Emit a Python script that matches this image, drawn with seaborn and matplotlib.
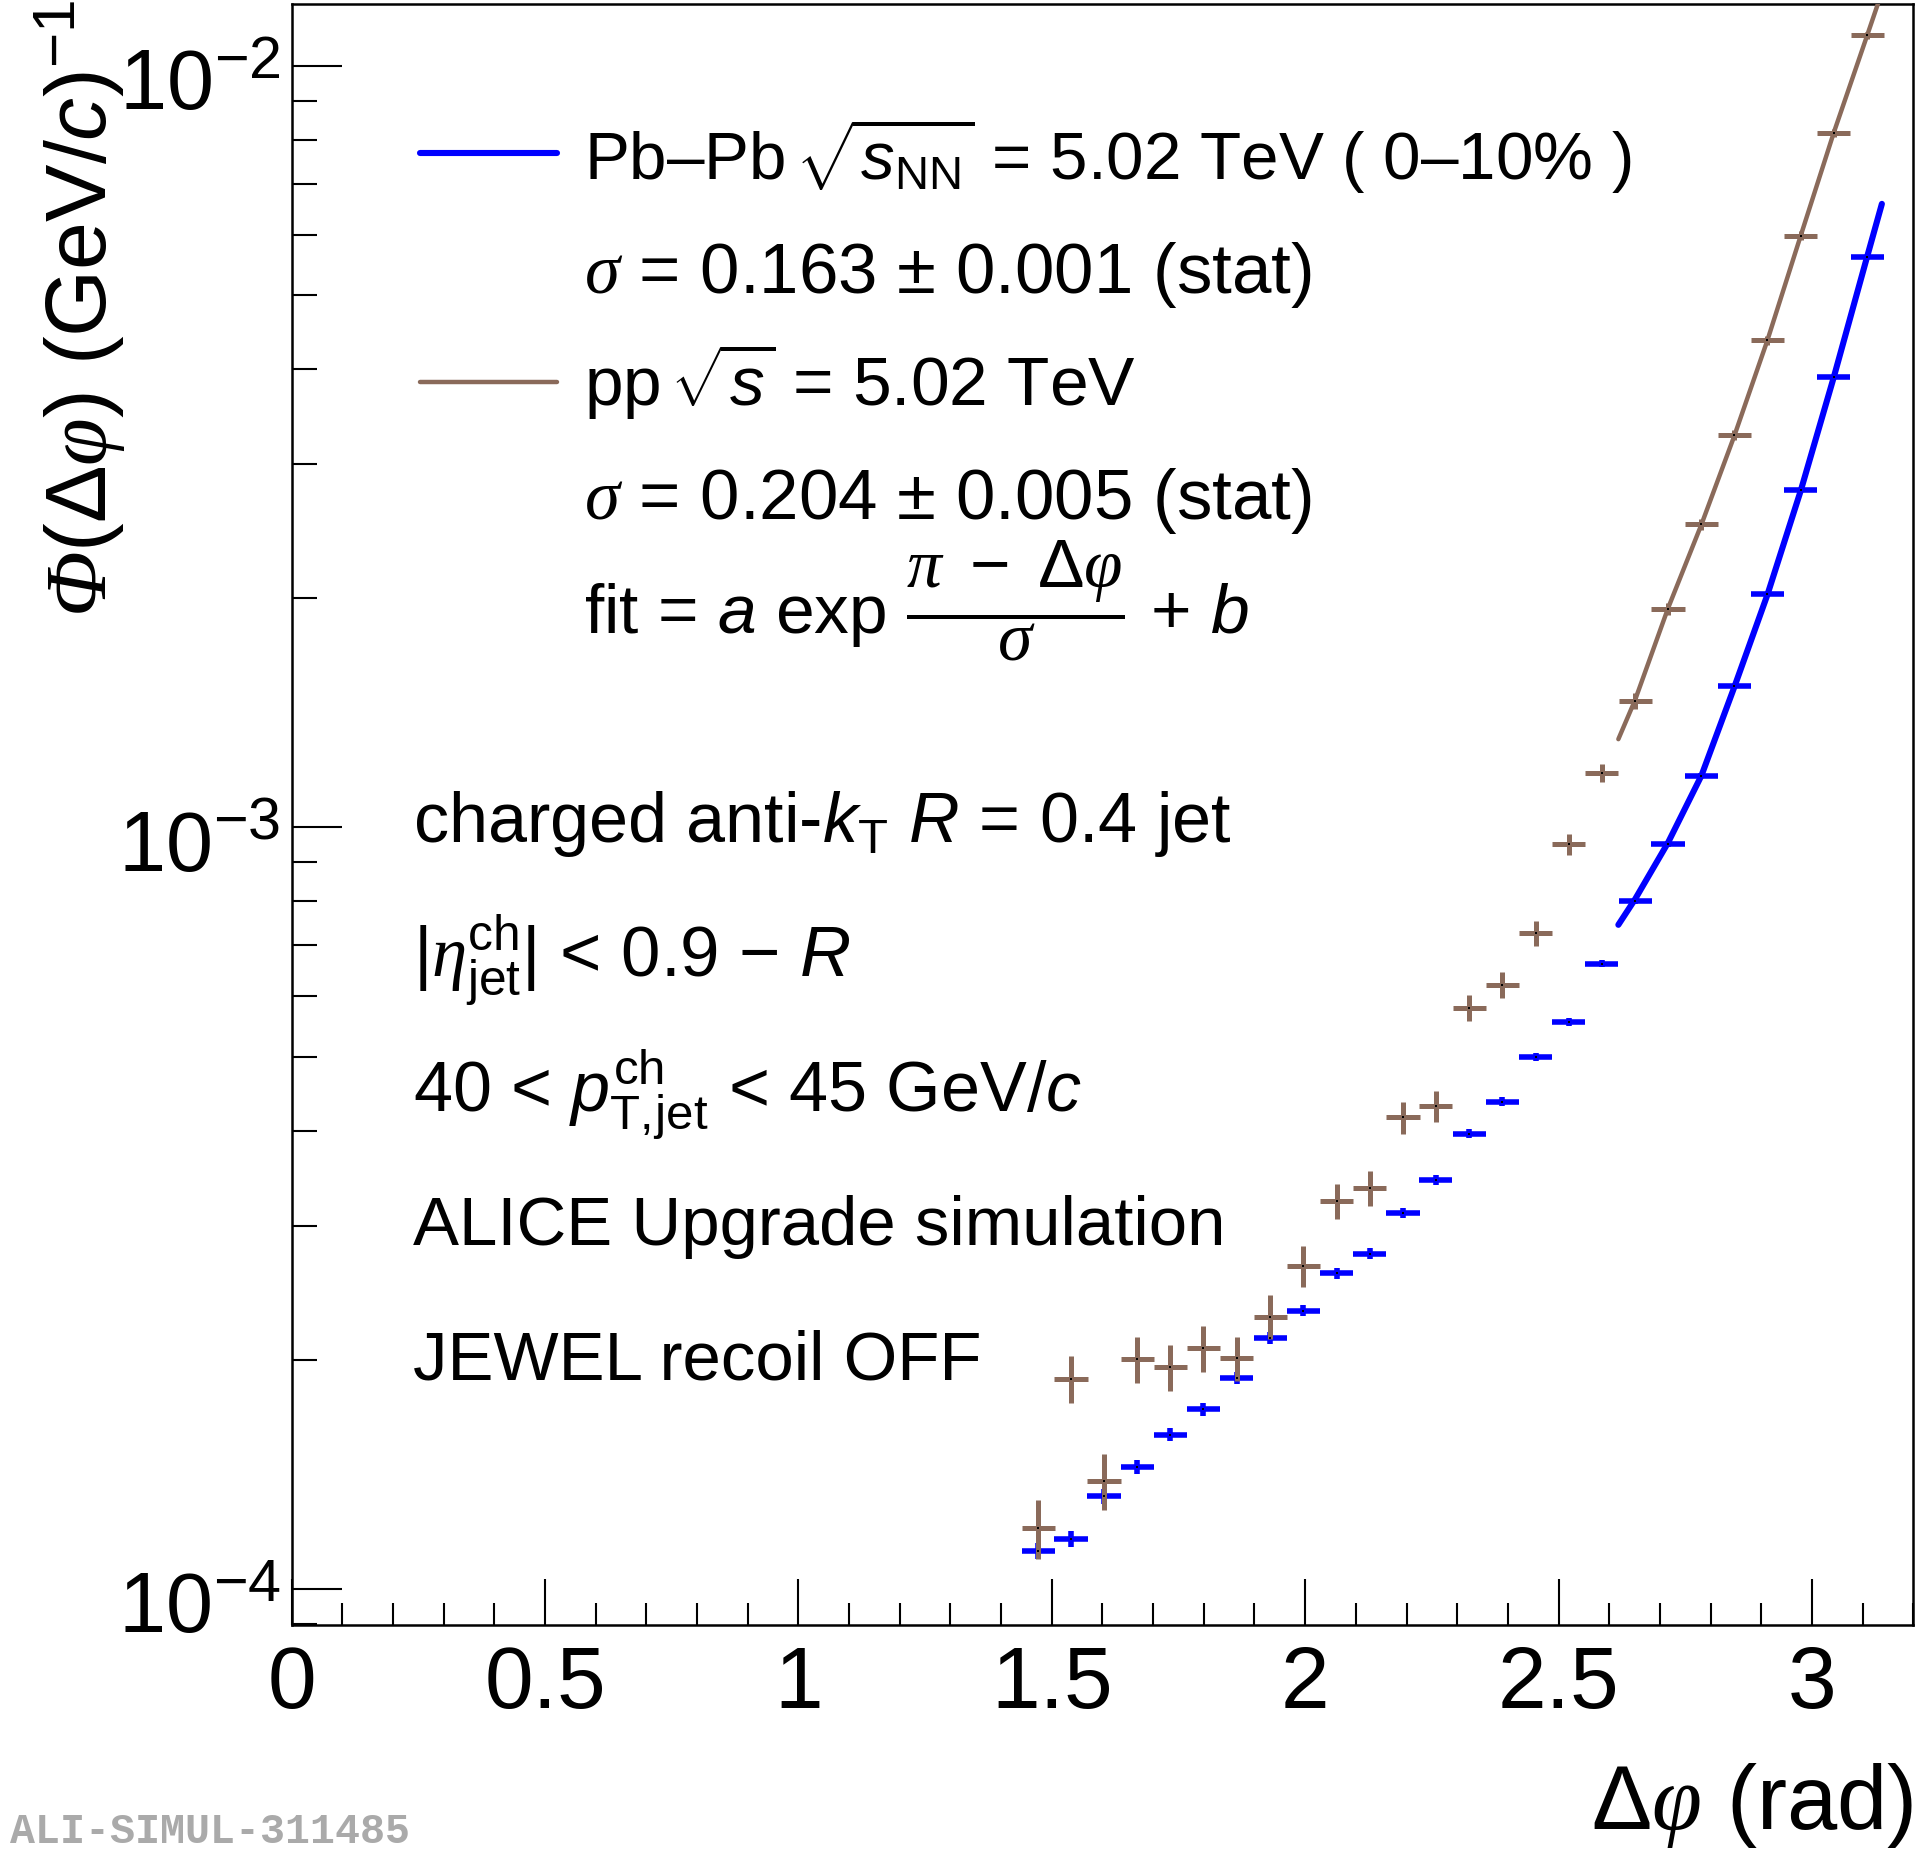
import numpy as np
import pandas as pd
import matplotlib
matplotlib.use("Agg")
import matplotlib.pyplot as plt
import seaborn as sns
from matplotlib.lines import Line2D
from matplotlib.transforms import ScaledTranslation
from matplotlib.ticker import MultipleLocator, LogLocator, NullFormatter, FuncFormatter, LogFormatterMathtext

# ---------------- data ----------------
dphi = [1.473, 1.538, 1.603, 1.669, 1.734, 1.799, 1.865, 1.931, 1.996, 2.062,
        2.127, 2.193, 2.258, 2.324, 2.389, 2.455, 2.520, 2.585, 2.651, 2.716,
        2.782, 2.847, 2.912, 2.978, 3.043, 3.109]
bin_halfwidth = 0.0327

phi_pbpb = [1.121e-4, 1.162e-4, 1.323e-4, 1.447e-4, 1.594e-4, 1.723e-4, 1.893e-4, 2.135e-4,
            2.320e-4, 2.597e-4, 2.756e-4, 3.118e-4, 3.441e-4, 3.961e-4, 4.363e-4, 5.00e-4,
            5.553e-4, 6.626e-4, 8.00e-4, 9.52e-4, 1.169e-3, 1.532e-3, 2.025e-3, 2.773e-3,
            3.902e-3, 5.619e-3]
err_pbpb = [2.7e-6, 2.8e-6, 3.0e-6, 3.0e-6, 3.2e-6, 3.4e-6, 3.6e-6, 3.8e-6,
            4.0e-6, 4.4e-6, 4.4e-6, 4.7e-6, 5.2e-6, 5.5e-6, 5.8e-6, 6.0e-6,
            6.0e-6, 6.5e-6, 7.0e-6, 8.0e-6, 9.0e-6, 1.1e-5, 1.3e-5, 1.6e-5,
            2.0e-5, 2.5e-5]

phi_pp = [1.202e-4, 1.889e-4, 1.388e-4, 2.004e-4, 1.954e-4, 2.071e-4, 2.010e-4, 2.279e-4,
          2.658e-4, 3.232e-4, 3.362e-4, 4.163e-4, 4.308e-4, 5.80e-4, 6.212e-4, 7.26e-4,
          9.506e-4, 1.180e-3, 1.466e-3, 1.936e-3, 2.501e-3, 3.273e-3, 4.362e-3, 5.987e-3,
          8.166e-3, 1.097e-2]
err_pp = [1.06e-5, 1.34e-5, 1.18e-5, 1.40e-5, 1.37e-5, 1.41e-5, 1.33e-5, 1.50e-5,
          1.63e-5, 1.74e-5, 1.82e-5, 2.0e-5, 2.0e-5, 2.3e-5, 2.4e-5, 2.7e-5,
          3.0e-5, 3.3e-5, 3.6e-5, 3.5e-5, 4.0e-5, 5.0e-5, 6.0e-5, 7.5e-5,
          9.5e-5, 1.2e-4]

fit_x = [2.618, 2.651, 2.716, 2.782, 2.847, 2.912, 2.978, 3.043, 3.109, 3.138]
fit_pbpb = [7.45e-4, 8.05e-4, 9.55e-4, 1.17e-3, 1.53e-3, 2.02e-3, 2.77e-3, 3.90e-3, 5.62e-3, 6.59e-3]
fit_pp = [1.306e-3, 1.47e-3, 1.94e-3, 2.50e-3, 3.27e-3, 4.36e-3, 5.99e-3, 8.17e-3, 1.097e-2, 1.25e-2]

x_ticks = [0, 0.5, 1, 1.5, 2, 2.5, 3]

# ---------------- style ----------------
BLUE = "#0000ff"
BROWN = "#8a6a5a"

sns.set_theme(style="white")
plt.rcParams["font.family"] = ["Liberation Sans", "DejaVu Sans"]
plt.rcParams["text.color"] = "black"
plt.rcParams["axes.labelcolor"] = "black"
plt.rcParams["xtick.color"] = "black"
plt.rcParams["ytick.color"] = "black"
plt.rcParams["mathtext.fontset"] = "custom"
plt.rcParams["mathtext.rm"] = "Liberation Sans"
plt.rcParams["mathtext.it"] = "Liberation Sans:italic"
plt.rcParams["mathtext.bf"] = "Liberation Sans:bold"
plt.rcParams["mathtext.sf"] = "Liberation Serif:italic"

W, H = 1920, 1854
fig = plt.figure(figsize=(W / 100, H / 100), dpi=100)
ax = fig.add_axes([291.6 / W, 1 - 1625.3 / H, (1913.3 - 291.6) / W, (1625.3 - 4) / H])

df = pd.DataFrame({"dphi": dphi, "pbpb": phi_pbpb, "epbpb": err_pbpb,
                   "pp": phi_pp, "epp": err_pp})
fit_df = pd.DataFrame({"x": fit_x, "pbpb": fit_pbpb, "pp": fit_pp})

ax.set_yscale("log")
ax.set_xlim(0, 3.2)
ax.set_ylim(8.96e-5, 1.206e-2)

# Pb-Pb points
ax.errorbar(df["dphi"], df["pbpb"], xerr=bin_halfwidth, yerr=df["epbpb"], fmt="none",
            ecolor=BLUE, elinewidth=4.0, capsize=0, zorder=3)
sns.lineplot(data=fit_df, x="x", y="pbpb", ax=ax, color=BLUE, lw=4.4, zorder=4,
             legend=False)
# pp points
ax.errorbar(df["dphi"], df["pp"], xerr=bin_halfwidth, yerr=df["epp"], fmt="none",
            ecolor=BROWN, elinewidth=3.6, capsize=0, zorder=5)
sns.lineplot(data=fit_df, x="x", y="pp", ax=ax, color=BROWN, lw=3.2, zorder=6,
             legend=False)
# marker dots
sns.scatterplot(data=df, x="dphi", y="pbpb", ax=ax, color="black", s=3, marker="s",
                linewidth=0, zorder=7, legend=False)
sns.scatterplot(data=df, x="dphi", y="pp", ax=ax, color="black", s=3, marker="s",
                linewidth=0, zorder=7, legend=False)

ax.set_xlabel("")
ax.set_ylabel("")

# axes / ticks
for s in ax.spines.values():
    s.set_linewidth(1.8)
    s.set_color("black")
ax.xaxis.set_major_locator(MultipleLocator(0.5))
ax.xaxis.set_minor_locator(MultipleLocator(0.1))
ax.set_xticks(x_ticks)
ax.xaxis.set_major_formatter(FuncFormatter(lambda v, p: f"{v:g}"))
ax.yaxis.set_major_locator(LogLocator(base=10))
ax.yaxis.set_minor_locator(LogLocator(base=10, subs=np.arange(2, 10)))
ax.yaxis.set_minor_formatter(NullFormatter())
ax.yaxis.set_major_formatter(LogFormatterMathtext())
ax.tick_params(axis="x", which="major", direction="in", length=33, width=1.5,
               labelsize=63, pad=14, top=False, bottom=True)
ax.tick_params(axis="x", which="minor", direction="in", length=16, width=1.5,
               top=False, bottom=True)
ax.tick_params(axis="y", which="major", direction="in", length=36, width=1.5,
               labelsize=61, pad=8, right=False, left=True)
ax.tick_params(axis="y", which="minor", direction="in", length=18, width=1.5,
               right=False, left=True)
ax.grid(False)
shift = ScaledTranslation(0, -0.13, fig.dpi_scale_trans)
for lab in ax.get_yticklabels():
    lab.set_transform(lab.get_transform() + shift)

# axis titles
fig.text(1913 / W, 1 - 1806 / H, r"$\Delta\mathsf{\varphi}$ (rad)", ha="right",
         va="center", fontsize=65)
fig.text(80 / W, 1 - 0 / H, r"$\mathsf{\Phi}(\Delta\mathsf{\varphi})$ (GeV/$c$)$^{-1}$",
         rotation=90, ha="center", va="top", fontsize=62)

# legend block
def ftxt(x, y, s, **kw):
    kw.setdefault("fontsize", 50)
    fig.text(x / W, 1 - y / H, s, ha="left", va="baseline", **kw)

fig.add_artist(Line2D([420 / W, 557 / W], [1 - 153 / H, 1 - 153 / H], color=BLUE, lw=4.4))
fig.add_artist(Line2D([420 / W, 557 / W], [1 - 382 / H, 1 - 382 / H], color=BROWN, lw=3.2))
ftxt(584, 180, r"Pb–Pb $\!\sqrt{s_{\rm NN}}$ = 5.02 TeV ( 0–10% )", fontsize=48.5)
ftxt(584, 293, r"$\mathsf{\sigma}$ = 0.163 ± 0.001 (stat)", fontsize=51)
ftxt(584, 406, r"pp $\!\sqrt{s}$ = 5.02 TeV", fontsize=50)
ftxt(584, 519, r"$\mathsf{\sigma}$ = 0.204 ± 0.005 (stat)", fontsize=51)
ftxt(584, 633, r"fit = $a$ exp $\dfrac{\mathsf{\pi}\;-\;\Delta\mathsf{\varphi}}{\mathsf{\sigma}}$ + $b$",
     fontsize=50)

ftxt(413, 842, r"charged anti-$k_{\rm T}$ $R$ = 0.4 jet", fontsize=50.5)
ftxt(413, 977, r"|$\mathsf{\eta}^{\rm ch}_{\rm jet}$| < 0.9 $-$ $R$", fontsize=51)
ftxt(413, 1111, r"40 < $p^{\rm ch}_{\rm T,\!jet}$ < 45 GeV/$c$", fontsize=50.5)
ftxt(413, 1245, "ALICE Upgrade simulation", fontsize=49.7)
ftxt(413, 1380, "JEWEL recoil OFF", fontsize=49.7)

fig.text(10 / W, 1 - 1843 / H, "ALI-SIMUL-311485", ha="left", va="baseline",
         family="Liberation Mono", weight="bold", color="#aaaaaa", fontsize=30)

fig.savefig("out.png", dpi=100, facecolor="white")
